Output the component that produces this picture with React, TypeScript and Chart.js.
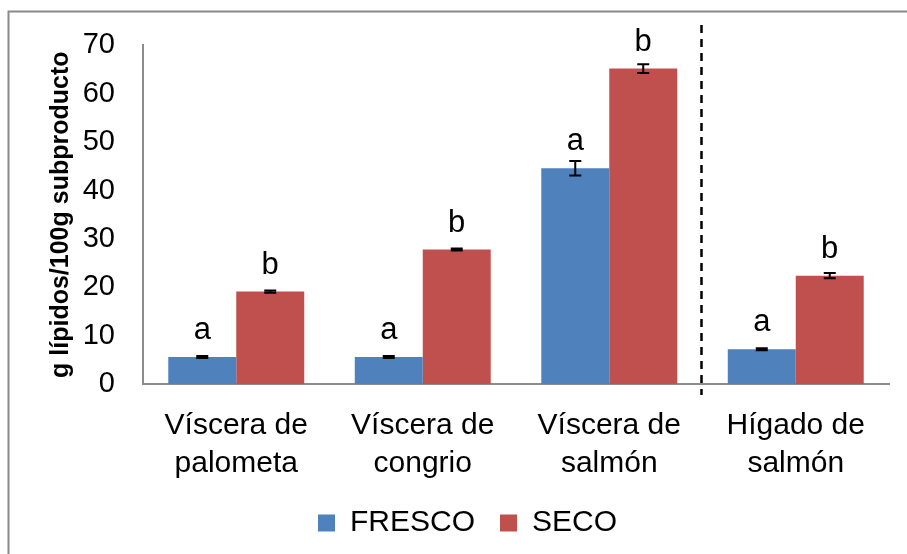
import React, { useEffect, useRef } from 'react';
import { Chart, registerables } from 'chart.js';

Chart.register(...registerables);

const categories: string[][] = [
  ['Víscera de', 'palometa'],
  ['Víscera de', 'congrio'],
  ['Víscera de', 'salmón'],
  ['Hígado de', 'salmón'],
];
const seriesNames = ['FRESCO', 'SECO'];
const frescoValues = [5.6, 5.6, 44.6, 7.2];
const frescoErrors = [0.2, 0.2, 1.5, 0.2];
const secoValues = [19.1, 27.8, 65.2, 22.4];
const secoErrors = [0.25, 0.2, 0.9, 0.55];
const frescoLetters = ['a', 'a', 'a', 'a'];
const secoLetters = ['b', 'b', 'b', 'b'];
const yMin = 0;
const yMax = 70;
const yStep = 10;
const yTitle = 'g lípidos/100g subproducto';

const FONT = "'Liberation Sans', Arial, sans-serif";

const annotatePlugin = {
  id: 'annotate',
  beforeDraw(chart: any) {
    const ctx = chart.ctx;
    ctx.save();
    ctx.strokeStyle = '#8a8a8a';
    ctx.lineWidth = 2;
    ctx.beginPath();
    ctx.moveTo(8.5, chart.height);
    ctx.lineTo(8.5, 11.5);
    ctx.lineTo(chart.width, 11.5);
    ctx.stroke();
    ctx.restore();
  },
  afterDatasetsDraw(chart: any) {
    const ctx = chart.ctx;
    const ys = chart.scales.y;
    const xs = chart.scales.x;
    const errs = [frescoErrors, secoErrors];
    const letters = [frescoLetters, secoLetters];
    ctx.save();
    chart.data.datasets.forEach((ds: any, di: number) => {
      const meta = chart.getDatasetMeta(di);
      meta.data.forEach((bar: any, i: number) => {
        const v = ds.data[i];
        const e = errs[di][i];
        const yt = ys.getPixelForValue(v + e);
        const yb = ys.getPixelForValue(v - e);
        ctx.strokeStyle = '#000';
        ctx.lineWidth = 2;
        ctx.setLineDash([]);
        ctx.beginPath();
        ctx.moveTo(bar.x, yt);
        ctx.lineTo(bar.x, yb);
        ctx.moveTo(bar.x - 6, yt);
        ctx.lineTo(bar.x + 6, yt);
        ctx.moveTo(bar.x - 6, yb);
        ctx.lineTo(bar.x + 6, yb);
        ctx.stroke();
        ctx.fillStyle = '#000';
        ctx.font = `31px ${FONT}`;
        ctx.textAlign = 'center';
        ctx.textBaseline = 'alphabetic';
        ctx.fillText(letters[di][i], bar.x, bar.y - 18);
      });
    });
    const sepX = (xs.getPixelForValue(2) + xs.getPixelForValue(3)) / 2 - 1;
    ctx.strokeStyle = '#000';
    ctx.lineWidth = 2.5;
    ctx.setLineDash([8, 6]);
    ctx.beginPath();
    ctx.moveTo(sepX, 25);
    ctx.lineTo(sepX, ys.bottom + 11);
    ctx.stroke();
    ctx.restore();
  },
};

export default function App() {
  const ref = useRef<HTMLCanvasElement | null>(null);
  useEffect(() => {
    if (!ref.current) return;
    const chart = new Chart(ref.current, {
      type: 'bar',
      data: {
        labels: categories,
        datasets: [
          {
            label: seriesNames[0],
            data: frescoValues,
            backgroundColor: '#4F81BD',
            borderWidth: 0,
            categoryPercentage: 0.729,
            barPercentage: 1,
          },
          {
            label: seriesNames[1],
            data: secoValues,
            backgroundColor: '#C0504D',
            borderWidth: 0,
            categoryPercentage: 0.729,
            barPercentage: 1,
          },
        ],
      },
      options: {
        responsive: false,
        animation: false,
        devicePixelRatio: 1,
        layout: { padding: { left: 46, right: 18, top: 43, bottom: 6 } },
        plugins: {
          tooltip: { enabled: false },
          legend: {
            position: 'bottom',
            labels: {
              color: '#000',
              font: { family: FONT, size: 30 },
              boxWidth: 17,
              boxHeight: 17,
              padding: 25,
            },
          },
        },
        scales: {
          x: {
            grid: { display: false, drawTicks: false },
            border: { display: true, color: '#8c8c8c', width: 2 },
            ticks: {
              color: '#000',
              font: { family: FONT, size: 30, lineHeight: 1.25 },
              padding: 23,
              maxRotation: 0,
              autoSkip: false,
            },
            afterFit(scale: any) {
              scale.height = 99;
            },
          },
          y: {
            min: yMin,
            max: yMax,
            grid: { display: false, drawTicks: false },
            border: { display: true, color: '#8c8c8c', width: 2 },
            ticks: {
              stepSize: yStep,
              color: '#000',
              font: { family: FONT, size: 29 },
              padding: 28,
            },
            title: {
              display: true,
              text: yTitle,
              color: '#000',
              font: { family: FONT, size: 25, weight: 'bold' },
              padding: { top: 0, bottom: 0 },
            },
            afterFit(scale: any) {
              scale.width = 97;
            },
          },
        },
      },
      plugins: [annotatePlugin],
    });
    return () => chart.destroy();
  }, []);
  return (
    <div style={{ position: 'fixed', left: 0, top: 0, width: 907, height: 554, background: '#fff' }}>
      <canvas ref={ref} width={907} height={554} />
    </div>
  );
}
